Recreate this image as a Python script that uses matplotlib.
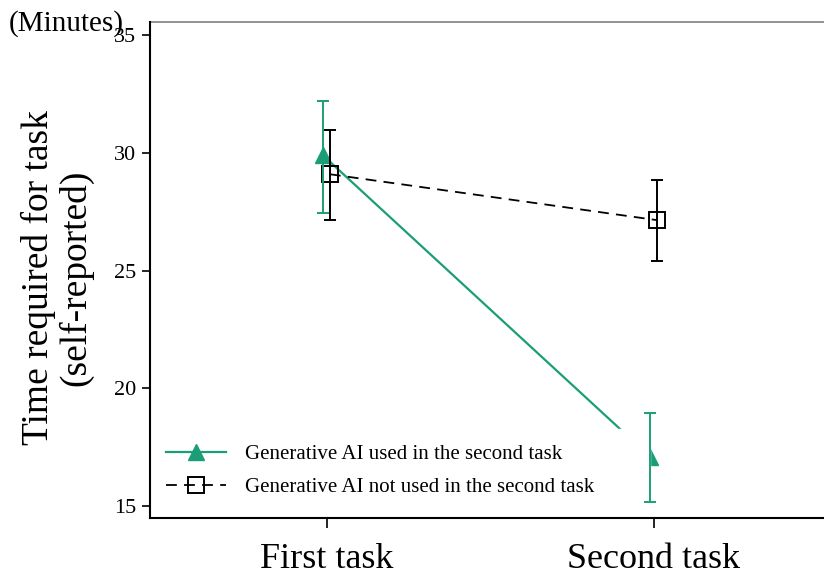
import matplotlib
matplotlib.use('Agg')
import matplotlib.pyplot as plt
import numpy as np

plt.rcParams['font.family'] = ['Liberation Serif', 'DejaVu Serif']

# Self-reported time per task (minutes)
tasks = ['First task', 'Second task']
ai_mean = [29.9, 17.1]
ai_low = [27.45, 15.15]
ai_high = [32.2, 18.95]
no_ai_mean = [29.1, 27.15]
no_ai_low = [27.15, 25.4]
no_ai_high = [31.0, 28.85]
labels = ['Generative AI used in the second task',
          'Generative AI not used in the second task']

green = '#1b9e77'

fig = plt.figure(figsize=(8.24, 5.78), dpi=100)
ax = fig.add_axes([150 / 824, 1 - 518 / 578, 1 - 150 / 824, (518 - 22) / 578])

x = np.arange(len(tasks))
xa = x - 0.012
xb = x + 0.009

ai_err = [np.array(ai_mean) - np.array(ai_low), np.array(ai_high) - np.array(ai_mean)]
no_err = [np.array(no_ai_mean) - np.array(no_ai_low), np.array(no_ai_high) - np.array(no_ai_mean)]

ax.plot(xa, ai_mean, color=green, lw=1.6, marker='^', ms=12, mfc=green, mec=green,
        label=labels[0], zorder=3)
ax.plot(xb, no_ai_mean, color='black', lw=1.3, ls=(0, (6, 4)), marker='s', ms=11,
        mfc='none', mec='black', mew=1.4, label=labels[1], zorder=3)

ax.errorbar(xa, ai_mean, yerr=ai_err, fmt='none', ecolor=green, elinewidth=1.4,
            capsize=4, capthick=1.4, zorder=7)
ax.errorbar(xb, no_ai_mean, yerr=no_err, fmt='none', ecolor='black', elinewidth=1.4,
            capsize=4, capthick=1.4, zorder=7)

ax.set_xlim(-0.541, 1.52)
ax.set_ylim(14.49, 35.57)
ax.set_yticks([15, 20, 25, 30, 35])
ax.set_xticks(x)
ax.set_xticklabels(tasks, fontsize=26)
ax.tick_params(axis='y', labelsize=16, length=6, width=1.2, pad=4)
ax.tick_params(axis='x', length=7, width=1.2, pad=11)

ax.spines['right'].set_visible(False)
ax.spines['top'].set_color('#808080')
ax.spines['top'].set_linewidth(1.2)
for s in ['left', 'bottom']:
    ax.spines[s].set_linewidth(1.5)
    ax.spines[s].set_zorder(6)

ylo = ax.get_ylim()[0]
xlo = ax.get_xlim()[0]
leg = ax.legend(loc='lower left', bbox_to_anchor=(xlo, ylo + 0.21, xa[1] - xlo, 1),
                bbox_transform=ax.transData, mode='expand', borderaxespad=0,
                fontsize=15, handlelength=2.9, handletextpad=0.9, borderpad=0.75,
                labelspacing=0.65, frameon=True, fancybox=False, framealpha=1,
                facecolor='white', edgecolor='white')
leg.set_zorder(5)

fig.text(57 / 824, 1 - 278 / 578, 'Time required for task\n(self-reported)', rotation=90,
         ha='center', va='center', fontsize=27, linespacing=1.05)
fig.text(9 / 824, 1 - 24 / 578, '(Minutes)', ha='left', va='center', fontsize=21)

fig.savefig('out.png', dpi=100)
